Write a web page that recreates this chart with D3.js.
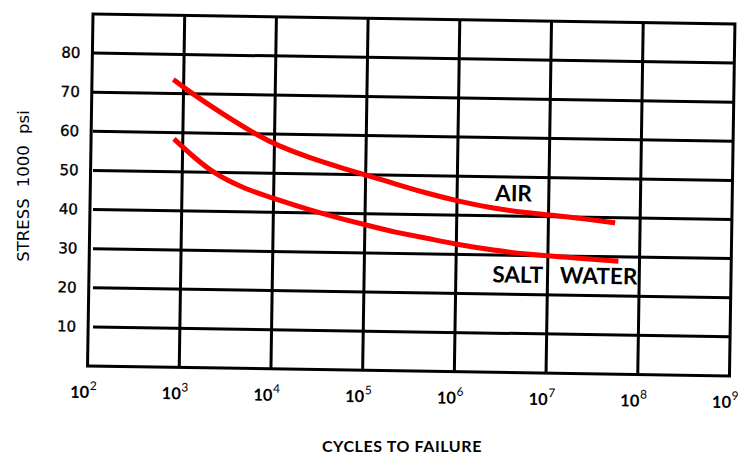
<!DOCTYPE html>
<html>
<head>
<meta charset="utf-8">
<script src="https://cdn.jsdelivr.net/npm/d3@7"></script>
<style>
  html, body { margin: 0; padding: 0; background: #fff; }
  svg { display: block; }
</style>
</head>
<body>
<svg id="chart" width="744" height="457"></svg>
<script>
// ---- data ----
const decadeExponents = [2, 3, 4, 5, 6, 7, 8, 9];
const stressTicks = [10, 20, 30, 40, 50, 60, 70, 80];

const airCycles  = [771, 1227, 2985, 6950, 10590, 24600, 57000, 143900, 200900, 466700,
                    1081000, 2500000, 5794000, 11320000, 26240000, 53460000];
const airStress  = [73.6, 70.1, 64.3, 59.3, 57.2, 54.0, 51.5, 48.9, 47.9, 45.5,
                    43.5, 41.9, 40.9, 40.4, 39.5, 38.7];

const saltCycles = [802, 1312, 2183, 4667, 10840, 25060, 58210, 146600, 205100, 475300,
                    1099000, 2547000, 5888000, 13610000, 58880000];
const saltStress = [58.4, 53.9, 49.8, 46.0, 43.3, 40.7, 38.5, 36.3, 35.5, 34.0,
                    32.4, 31.2, 30.3, 29.8, 28.9];

const seriesLabels = [
  { text: "AIR", cycles: 2.6e6, stress: 43.8 },
  { text: "SALT WATER", cycles: 2.5e6, stress: 23.0 }
];
const xTitle = "CYCLES TO FAILURE";
const yTitle = "STRESS 1000 psi";

// ---- layout ----
const W = 642, H = 352;
const tilt = 0.89; // the scanned chart is slightly rotated
const sinT = Math.sin(tilt * Math.PI / 180);

const svg = d3.select("#chart");
const x = d3.scaleLog().domain([1e2, 1e9]).range([0, W]);
const y = d3.scaleLinear().domain([0, 90]).range([H, 0]);

const g = svg.append("g").attr("transform", `translate(93,14) rotate(${tilt})`);

// grid
const gridW = 3;
g.selectAll("line.h").data(stressTicks).join("line")
  .attr("x1", d => y(d) * sinT).attr("x2", W)
  .attr("y1", d => y(d)).attr("y2", d => y(d))
  .attr("stroke", "#000").attr("stroke-width", gridW);

g.selectAll("line.v").data(decadeExponents.slice(1, -1)).join("line")
  .attr("x1", d => x(Math.pow(10, d))).attr("x2", d => x(Math.pow(10, d)))
  .attr("y1", 0).attr("y2", H)
  .attr("stroke", "#000").attr("stroke-width", gridW);

g.append("rect").attr("x", 0).attr("y", 0).attr("width", W).attr("height", H)
  .attr("fill", "none").attr("stroke", "#000").attr("stroke-width", gridW);

// y tick labels
g.selectAll("text.yt").data(stressTicks).join("text")
  .attr("x", -12).attr("y", d => y(d))
  .attr("text-anchor", "end").attr("dominant-baseline", "central")
  .attr("font-family", "DejaVu Sans").attr("font-size", 15)
  .attr("stroke", "#000").attr("stroke-width", 0.35)
  .attr("fill", "#000").text(d => d);

// x tick labels 10^n
const xt = g.selectAll("g.xt").data(decadeExponents).join("g")
  .attr("transform", d => `translate(${x(Math.pow(10, d)) + 2},${H + 32})`);
xt.append("text").attr("text-anchor", "end")
  .attr("font-family", "Lato").attr("font-weight", "bold").attr("font-size", 16.5)
  .attr("fill", "#000").text("10");
xt.append("text").attr("x", 0.5).attr("y", -8)
  .attr("font-family", "Lato").attr("font-size", 12)
  .attr("fill", "#000").text(d => d);

// curves
const line = d3.line().x(d => x(d[0])).y(d => y(d[1])).curve(d3.curveBasis);
const airPts = airCycles.map((c, i) => [c, airStress[i]]);
const saltPts = saltCycles.map((c, i) => [c, saltStress[i]]);
[airPts, saltPts].forEach(pts => {
  g.append("path").attr("d", line(pts))
    .attr("fill", "none").attr("stroke", "#ff0000")
    .attr("stroke-width", 5).attr("stroke-linecap", "butt");
});

// series labels
g.selectAll("text.sl").data(seriesLabels).join("text")
  .attr("x", d => x(d.cycles)).attr("y", d => y(d.stress))
  .attr("font-family", "Lato").attr("font-weight", "bold").attr("font-size", 22.5)
  .attr("word-spacing", 12)
  .attr("fill", "#000").text(d => d.text);

// axis titles
svg.append("text").attr("x", 402).attr("y", 452)
  .attr("text-anchor", "middle")
  .attr("font-family", "Lato").attr("font-weight", "bold").attr("font-size", 16)
  .attr("letter-spacing", 0.6)
  .attr("fill", "#000").text(xTitle);

svg.append("text")
  .attr("transform", "translate(29,186) rotate(-90)")
  .attr("text-anchor", "middle")
  .attr("font-family", "DejaVu Sans").attr("font-size", 16.5)
  .attr("word-spacing", 6)
  .attr("fill", "#000").text(yTitle);
</script>
</body>
</html>
